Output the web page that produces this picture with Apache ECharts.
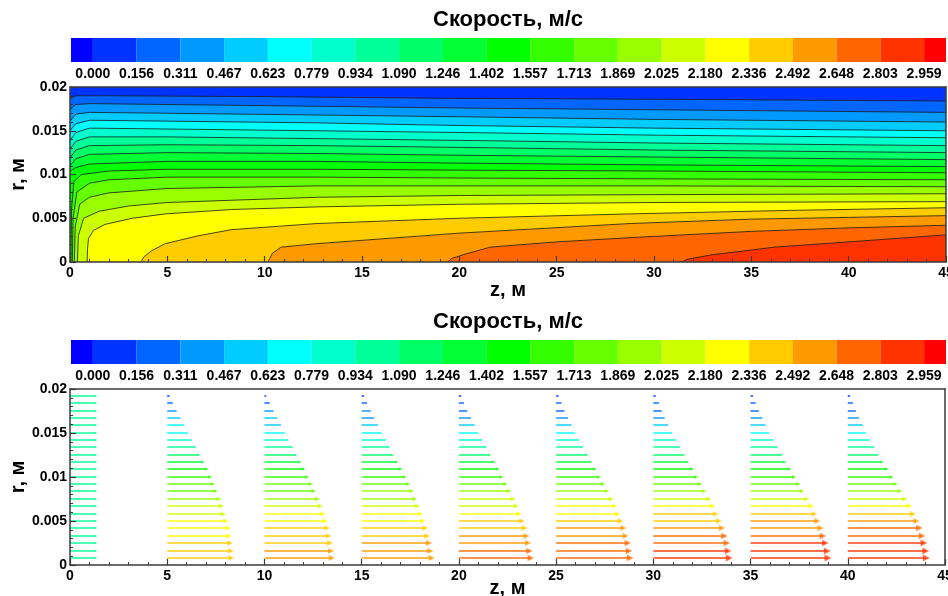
<!DOCTYPE html>
<html>
<head>
<meta charset="utf-8">
<script src="https://cdn.jsdelivr.net/npm/echarts@6/dist/echarts.min.js"></script>
<style>
  html, body { margin: 0; padding: 0; background: #fff; }
  #chart { width: 948px; height: 596px; }
</style>
</head>
<body>
<div id="chart"></div>
<script>
const FONT = '"Liberation Sans", Arial, sans-serif';
const AXIS_COLOR = '#3a3a3a';

// contour levels, m/s (colorbar labels)
const LEVELS = [0.000, 0.156, 0.311, 0.467, 0.623, 0.779, 0.934, 1.090, 1.246, 1.402,
                1.557, 1.713, 1.869, 2.025, 2.180, 2.336, 2.492, 2.648, 2.803, 2.959];
const LEVEL_LABELS = LEVELS.map(v => v.toFixed(3));
// band colours: below 0, 19 bands, above 2.959
const BAND_COLORS = ['#0000ff', '#0033ff', '#0066ff', '#0099ff', '#00ccff', '#00ffff', '#00ffcc',
                     '#00ff99', '#00ff66', '#00ff33', '#00ff00', '#33ff00', '#66ff00', '#99ff00',
                     '#ccff00', '#ffff00', '#ffcc00', '#ff9900', '#ff6600', '#ff3300', '#ff0000'];

// contour lines [z, r]
const WALL = [[0, 0.02], [45, 0.02]];
const L01 = [[0, 0.0187], [0.3, 0.0190], [2, 0.0190], [10, 0.0189], [20, 0.0187], [30, 0.0186], [45, 0.0184]];
const L02 = [[0, 0.0174], [0.3, 0.0180], [1, 0.0181], [5, 0.0180], [12.7, 0.0178], [20, 0.0176], [30, 0.0174], [45, 0.0171]];
const L03 = [[0, 0.0161], [0.3, 0.0169], [1, 0.0171], [5, 0.0170], [12.7, 0.0168], [20, 0.0166], [30, 0.0163], [45, 0.0160]];
const L04 = [[0, 0.0150], [0.3, 0.0158], [1, 0.0162], [5, 0.0161], [12.7, 0.0159], [20, 0.0156], [30, 0.0153], [45, 0.0150]];
const L05 = [[0, 0.0139], [0.3, 0.0148], [1, 0.0153], [5, 0.0152], [12.7, 0.0150], [20, 0.0148], [30, 0.0145], [45, 0.0142]];
const L06 = [[0, 0.0129], [0.3, 0.0138], [1, 0.0143], [5, 0.0143], [12.7, 0.0141], [20, 0.0139], [30, 0.0136], [45, 0.0133]];
const L07 = [[0, 0.0119], [0.3, 0.0128], [1, 0.0133], [5, 0.0134], [12.7, 0.0133], [20, 0.0131], [30, 0.0128], [45, 0.0125]];
const L08 = [[0, 0.0110], [0.3, 0.0118], [1, 0.0123], [5, 0.0125], [12.7, 0.0124], [20, 0.0122], [30, 0.0120], [45, 0.0117]];
const L09 = [[0, 0.0104], [0.3, 0.0108], [1, 0.0112], [5, 0.0115], [12.7, 0.0115], [20, 0.0113], [30, 0.0111], [45, 0.0109]];
const L10 = [[0.05, 0], [0.08, 0.006], [0.2, 0.0092], [0.6, 0.0100], [2, 0.0104], [5, 0.0106], [12.7, 0.0106], [20, 0.0105], [30, 0.0104], [45, 0.0102]];
const L11 = [[0.12, 0], [0.16, 0.005], [0.35, 0.0080], [1, 0.0090], [2, 0.0094], [5, 0.0097], [12.7, 0.0097], [20, 0.0096], [30, 0.0095], [45, 0.0094]];
const L12 = [[0.22, 0], [0.27, 0.004], [0.5, 0.0066], [1, 0.0074], [2, 0.0079], [5, 0.0084], [12.7, 0.0087], [20, 0.0087], [30, 0.0087], [45, 0.0086]];
const L13 = [[0.38, 0], [0.43, 0.003], [0.7, 0.0050], [1.5, 0.0058], [3, 0.0064], [5, 0.0068], [12.7, 0.0074], [20, 0.0076], [30, 0.0077], [45, 0.0078]];
const L14 = [[0.88, 0], [0.9, 0.0015], [0.95, 0.0027], [1.2, 0.0036], [1.8, 0.0043], [3.2, 0.0050], [4.9, 0.0055], [8.3, 0.0060], [12.7, 0.0063], [20, 0.0066], [30, 0.0068], [45, 0.0069]];
const L15 = [[3.65, 0], [3.8, 0.0006], [4.2, 0.0013], [4.9, 0.0021], [6.6, 0.0030], [8.3, 0.0037], [12.7, 0.0044], [20, 0.0050], [28.8, 0.0055], [37, 0.0059], [45, 0.0062]];
const L16 = [[10.17, 0], [10.4, 0.0010], [10.85, 0.0017], [12.7, 0.0021], [20, 0.0033], [28.8, 0.0044], [35, 0.0049], [40, 0.0051], [45, 0.0053]];
const L17 = [[19.4, 0], [19.6, 0.0004], [20.3, 0.0009], [21.6, 0.0017], [25, 0.0023], [28.9, 0.0028], [35, 0.0035], [40, 0.0039], [45, 0.0042]];
const L18 = [[31.4, 0], [31.7, 0.0003], [32.9, 0.0008], [36.2, 0.0017], [40, 0.0023], [45, 0.0031]];
const CONTOURS = [WALL, L01, L02, L03, L04, L05, L06, L07, L08, L09, L10, L11, L12, L13, L14, L15, L16, L17, L18];

// vector plot: rows (r, m) and velocity at each station (bottom row first), m/s
const ARROW_R = [0.0008, 0.0016, 0.0025, 0.0033, 0.0042, 0.0050, 0.0058, 0.0067, 0.0075, 0.0084, 0.0092, 0.0100,
                 0.0109, 0.0117, 0.0125, 0.0134, 0.0142, 0.0150, 0.0159, 0.0167, 0.0175, 0.0184, 0.0192];
const ARROW_Z = [0, 5, 10, 15, 20, 25, 30, 35, 40];
const U_Z0  = [0.98, 0.98, 0.98, 0.98, 0.98, 0.98, 0.98, 0.98, 0.98, 0.98, 0.98, 0.98, 0.98, 0.98, 0.98, 0.98, 0.98, 0.98, 0.98, 0.98, 0.98, 0.98, 0.98];
const U_Z5  = [2.41, 2.39, 2.36, 2.32, 2.28, 2.20, 2.11, 2.04, 1.95, 1.82, 1.72, 1.61, 1.47, 1.34, 1.19, 1.05, 0.90, 0.76, 0.63, 0.49, 0.35, 0.21, 0.09];
const U_Z10 = [2.53, 2.50, 2.46, 2.41, 2.36, 2.28, 2.20, 2.10, 1.99, 1.85, 1.74, 1.60, 1.47, 1.33, 1.18, 1.04, 0.89, 0.75, 0.61, 0.47, 0.34, 0.20, 0.07];
const U_Z15 = [2.63, 2.58, 2.53, 2.46, 2.39, 2.30, 2.21, 2.10, 1.99, 1.88, 1.74, 1.61, 1.46, 1.31, 1.16, 1.02, 0.89, 0.74, 0.60, 0.46, 0.34, 0.20, 0.09];
const U_Z20 = [2.70, 2.65, 2.60, 2.54, 2.47, 2.37, 2.26, 2.15, 2.04, 1.89, 1.75, 1.60, 1.45, 1.30, 1.15, 1.01, 0.86, 0.72, 0.58, 0.45, 0.31, 0.19, 0.09];
const U_Z25 = [2.78, 2.74, 2.69, 2.61, 2.53, 2.42, 2.31, 2.20, 2.07, 1.91, 1.76, 1.61, 1.45, 1.29, 1.15, 0.99, 0.85, 0.70, 0.57, 0.44, 0.31, 0.20, 0.09];
const U_Z30 = [2.85, 2.81, 2.76, 2.67, 2.58, 2.46, 2.34, 2.23, 2.09, 1.91, 1.76, 1.61, 1.46, 1.28, 1.14, 0.98, 0.84, 0.69, 0.55, 0.42, 0.31, 0.21, 0.09];
const U_Z35 = [2.91, 2.88, 2.81, 2.72, 2.63, 2.51, 2.40, 2.28, 2.11, 1.93, 1.79, 1.63, 1.46, 1.28, 1.15, 0.99, 0.84, 0.69, 0.56, 0.44, 0.31, 0.19, 0.09];
const U_Z40 = [2.95, 2.93, 2.86, 2.79, 2.69, 2.58, 2.45, 2.31, 2.14, 1.96, 1.80, 1.64, 1.46, 1.28, 1.12, 0.98, 0.82, 0.67, 0.55, 0.42, 0.30, 0.19, 0.09];
const PROFILES = [U_Z0, U_Z5, U_Z10, U_Z15, U_Z20, U_Z25, U_Z30, U_Z35, U_Z40];
const VEC_SCALE = 1.37; // arrow length in z-units per 1 m/s

function bandColor(v) {
    for (let j = LEVELS.length - 1; j >= 0; j--) {
        if (v >= LEVELS[j]) return BAND_COLORS[j + 1];
    }
    return BAND_COLORS[0];
}

var chart = echarts.init(document.getElementById('chart'), null, { renderer: 'canvas' });

const labelStyle = { fontFamily: FONT, fontWeight: 'bold', fontSize: 14, color: '#000' };
const nameStyle = { fontFamily: FONT, fontWeight: 'bold', fontSize: 20, color: '#000' };

// colorbar blocks: [from, to, colour index] in level-index units
const cbData = BAND_COLORS.map((c, i) => [i === 0 ? -0.5 : i - 1, i === 20 ? 19.5 : i, i]);

function colorbarX(grid) {
    return {
        gridIndex: grid, type: 'value', min: -0.5, max: 19.5,
        axisLine: { show: false }, axisTick: { show: false }, splitLine: { show: false },
        axisLabel: Object.assign({
            customValues: LEVELS.map((v, i) => i),
            formatter: v => LEVEL_LABELS[Math.round(v)],
            margin: 5
        }, labelStyle)
    };
}
function hiddenY(grid, min, max) {
    return { gridIndex: grid, type: 'value', min: min, max: max, show: false };
}
function plotX(grid, gap) {
    return {
        gridIndex: grid, type: 'value', min: 0, max: 45, interval: 5, position: 'bottom', z: 10,
        axisLine: { show: true, onZero: false, lineStyle: { color: AXIS_COLOR, width: 1.5 } },
        axisTick: { show: true, inside: true, length: 6, lineStyle: { color: AXIS_COLOR, width: 1.2 } },
        minorTick: { show: true, splitNumber: 5, length: 3, lineStyle: { color: AXIS_COLOR, width: 1 } },
        splitLine: { show: false },
        axisLabel: Object.assign({ margin: 4, showMaxLabel: true }, labelStyle),
        name: 'z, м', nameLocation: 'middle', nameGap: gap, nameMoveOverlap: false, nameTextStyle: nameStyle
    };
}
function plotY(grid) {
    return {
        gridIndex: grid, type: 'value', min: 0, max: 0.02, interval: 0.005, z: 10,
        axisLine: { show: true, onZero: false, lineStyle: { color: AXIS_COLOR, width: 1.5 } },
        axisTick: { show: true, inside: true, length: 6, lineStyle: { color: AXIS_COLOR, width: 1.2 } },
        minorTick: { show: true, splitNumber: 5, length: 3, lineStyle: { color: AXIS_COLOR, width: 1 } },
        splitLine: { show: false },
        axisLabel: Object.assign({ margin: 3 }, labelStyle),
        name: 'r, м', nameLocation: 'middle', nameRotate: 90, nameGap: 42, nameMoveOverlap: false, nameTextStyle: nameStyle
    };
}
function frameX(grid) {
    return {
        gridIndex: grid, type: 'value', min: 0, max: 45, position: 'top', z: 10,
        axisLine: { show: true, onZero: false, lineStyle: { color: AXIS_COLOR, width: 1.5 } },
        axisTick: { show: false }, axisLabel: { show: false }, splitLine: { show: false }
    };
}
function frameY(grid) {
    return {
        gridIndex: grid, type: 'value', min: 0, max: 0.02, position: 'right', z: 10,
        axisLine: { show: true, onZero: false, lineStyle: { color: AXIS_COLOR, width: 1.5 } },
        axisTick: { show: false }, axisLabel: { show: false }, splitLine: { show: false }
    };
}

function colorbarSeries(xi, yi) {
    return {
        type: 'custom', xAxisIndex: xi, yAxisIndex: yi, silent: true, data: cbData,
        renderItem: function (params, api) {
            const p0 = api.coord([api.value(0), 1]);
            const p1 = api.coord([api.value(1), 0]);
            return {
                type: 'rect',
                shape: { x: p0[0], y: p0[1], width: p1[0] - p0[0], height: p1[1] - p0[1] },
                style: { fill: BAND_COLORS[api.value(2)] }
            };
        }
    };
}

const series = [colorbarSeries(0, 0), colorbarSeries(3, 3)];

// filled contours: each level paints the area below its line
CONTOURS.forEach((pts, j) => {
    series.push({
        type: 'line', xAxisIndex: 1, yAxisIndex: 1, data: pts, symbol: 'none', silent: true,
        lineStyle: { color: '#1a1a1a', width: j === 0 ? 0 : 0.8 },
        areaStyle: { color: BAND_COLORS[j + 1], opacity: 1 }
    });
});

// vectors
const arrows = [];
PROFILES.forEach((prof, s) => {
    prof.forEach((u, i) => {
        arrows.push({
            coords: [[ARROW_Z[s], ARROW_R[i]], [ARROW_Z[s] + u * VEC_SCALE, ARROW_R[i]]],
            symbolSize: [0, 2.4 * u],
            lineStyle: { color: bandColor(u) }
        });
    });
});
series.push({
    type: 'lines', coordinateSystem: 'cartesian2d', xAxisIndex: 4, yAxisIndex: 4, silent: true,
    symbol: ['none', 'triangle'],
    lineStyle: { width: 2, opacity: 0.7, curveness: 0 },
    data: arrows
});

const gridBase = { outerBoundsMode: 'none', containLabel: false };

var option = {
    animation: false,
    backgroundColor: '#fff',
    graphic: [
        { type: 'text', x: 508, y: 20, style: { text: 'Скорость, м/с', textAlign: 'center', textVerticalAlign: 'middle', font: 'bold 22px ' + FONT, fill: '#000' } },
        { type: 'text', x: 508, y: 322, style: { text: 'Скорость, м/с', textAlign: 'center', textVerticalAlign: 'middle', font: 'bold 22px ' + FONT, fill: '#000' } }
    ],
    grid: [
        Object.assign({ left: 71, right: 2, top: 38, height: 24 }, gridBase),
        Object.assign({ left: 70, right: 2, top: 87, height: 175 }, gridBase),
        Object.assign({ left: 71, right: 2, top: 340, height: 24 }, gridBase),
        Object.assign({ left: 70, right: 3, top: 389, height: 176 }, gridBase)
    ],
    xAxis: [colorbarX(0), plotX(1, 18), frameX(1), colorbarX(2), plotX(3, 13), frameX(3)],
    yAxis: [hiddenY(0, 0, 1), plotY(1), frameY(1), hiddenY(2, 0, 1), plotY(3), frameY(3)],
    series: series
};

option && chart.setOption(option);
</script>
</body>
</html>
